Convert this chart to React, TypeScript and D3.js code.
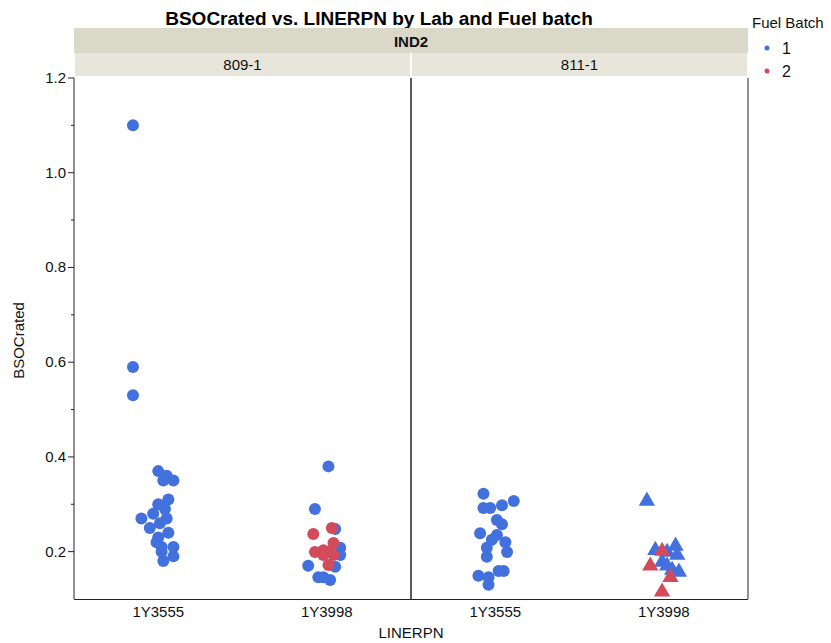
import React from "react";
import * as d3 from "d3";

// ---- data ----
const panels = ["809-1", "811-1"];
const categories = ["1Y3555", "1Y3998"];
const yTicks = [0.2, 0.4, 0.6, 0.8, 1.0, 1.2];
const yMinorTicks = [0.3, 0.5, 0.7, 0.9, 1.1];
const batches = ["1", "2"];

// 809-1, 1Y3555, batch 1 (jitter in category-step units)
const p1c1b1Values = [1.10, 0.59, 0.53, 0.37, 0.36, 0.35, 0.35, 0.31, 0.30, 0.29, 0.28, 0.27, 0.27, 0.25, 0.26, 0.24, 0.23, 0.22, 0.21, 0.21, 0.20, 0.19, 0.18];
const p1c1b1Jitter = [-0.15, -0.15, -0.15, 0, 0.05, 0.03, 0.09, 0.06, 0, 0.04, -0.03, 0.05, -0.1, -0.05, 0.01, 0.06, 0, -0.01, 0.09, 0.02, 0.02, 0.09, 0.03];
// 809-1, 1Y3998
const p1c2b1Values = [0.38, 0.29, 0.248, 0.208, 0.193, 0.17, 0.146, 0.14, 0.146, 0.168];
const p1c2b1Jitter = [0.01, -0.07, 0.05, 0.08, 0.08, -0.11, -0.05, 0.02, -0.02, 0.05];
const p1c2b2Values = [0.25, 0.237, 0.218, 0.199, 0.193, 0.199, 0.193, 0.172, 0.203];
const p1c2b2Jitter = [0.03, -0.08, 0.04, -0.07, -0.02, 0.01, 0.04, 0.01, -0.02];
// 811-1, 1Y3555
const p2c1b1Values = [0.322, 0.307, 0.292, 0.292, 0.298, 0.267, 0.258, 0.239, 0.235, 0.225, 0.22, 0.208, 0.199, 0.189, 0.149, 0.146, 0.159, 0.159, 0.13];
const p2c1b1Jitter = [-0.07, 0.11, -0.07, -0.03, 0.04, 0.01, 0.04, -0.09, 0.01, -0.02, 0.06, -0.05, 0.07, -0.05, -0.1, -0.04, 0.02, 0.05, -0.04];
// 811-1, 1Y3998 (triangles)
const p2c2b1Values = [0.307, 0.203, 0.199, 0.212, 0.193, 0.178, 0.17, 0.157, 0.161];
const p2c2b1Jitter = [-0.1, -0.05, 0.02, 0.07, 0.08, -0.01, 0.02, 0.09, 0.05];
const p2c2b2Values = [0.201, 0.17, 0.146, 0.115];
const p2c2b2Jitter = [-0.01, -0.08, 0.04, -0.01];

const groups = [
  { panel: "809-1", cat: "1Y3555", batch: "1", shape: "circle", values: p1c1b1Values, jitter: p1c1b1Jitter },
  { panel: "809-1", cat: "1Y3998", batch: "1", shape: "circle", values: p1c2b1Values, jitter: p1c2b1Jitter },
  { panel: "809-1", cat: "1Y3998", batch: "2", shape: "circle", values: p1c2b2Values, jitter: p1c2b2Jitter },
  { panel: "811-1", cat: "1Y3555", batch: "1", shape: "circle", values: p2c1b1Values, jitter: p2c1b1Jitter },
  { panel: "811-1", cat: "1Y3998", batch: "1", shape: "triangle", values: p2c2b1Values, jitter: p2c2b1Jitter },
  { panel: "811-1", cat: "1Y3998", batch: "2", shape: "triangle", values: p2c2b2Values, jitter: p2c2b2Jitter },
];

const W = 831;
const H = 643;
const left = 74;
const right = 748;
const top = 78;
const bottom = 599;
const FONT = "'Liberation Sans', Arial, sans-serif";

export default function App() {
  const y = d3.scaleLinear().domain([0.1, 1.2]).range([bottom, top]);
  const px = d3.scaleBand().domain(panels).range([left, right]).paddingInner(0);
  const color = d3.scaleOrdinal<string, string>().domain(batches).range(["#4271DD", "#D34A5B"]);
  const tri = d3.symbol().type(d3.symbolTriangle).size(115)() as string;

  const inner = (panel: string) =>
    d3.scalePoint().domain(categories).range([px(panel)!, px(panel)! + px.bandwidth()]).padding(0.5);

  return (
    <svg width={W} height={H} style={{ position: "absolute", left: 0, top: 0, fontFamily: FONT }}>
      <rect width={W} height={H} fill="#fff" />
      {/* title */}
      <text x={379} y={25} textAnchor="middle" fontSize={19} fontWeight="bold" fill="#000">
        BSOCrated vs. LINERPN by Lab and Fuel batch
      </text>
      {/* strips */}
      <rect x={left} y={28} width={right - left} height={25} fill="#DAD8C8" />
      <text x={(left + right) / 2} y={47} textAnchor="middle" fontSize={15} fontWeight="bold" fill="#111">IND2</text>
      {panels.map((p) => (
        <g key={p}>
          <rect x={px(p)! + 1} y={53} width={px.bandwidth() - 2} height={23} fill="#E8E6DA" />
          <text x={px(p)! + px.bandwidth() / 2} y={70} textAnchor="middle" fontSize={15} fill="#111">{p}</text>
        </g>
      ))}
      {/* points */}
      {groups.map((g, gi) => {
        const xs = inner(g.panel);
        const step = xs.step();
        return g.values.map((v, i) => {
          const cx = xs(g.cat)! + g.jitter[i] * step;
          const cy = y(v);
          return g.shape === "circle" ? (
            <circle key={`${gi}-${i}`} cx={cx} cy={cy} r={6} fill={color(g.batch)} />
          ) : (
            <path key={`${gi}-${i}`} d={tri} transform={`translate(${cx},${cy})`} fill={color(g.batch)} />
          );
        });
      })}
      {/* panel frames */}
      {panels.map((p) => (
        <g key={"f" + p}>
          <line x1={px(p)!} x2={px(p)!} y1={top} y2={bottom} stroke="#222" />
          <line x1={px(p)! + px.bandwidth()} x2={px(p)! + px.bandwidth()} y1={top} y2={bottom} stroke="#222" />
          <line x1={px(p)!} x2={px(p)! + px.bandwidth()} y1={bottom + 0.5} y2={bottom + 0.5} stroke="#222" />
          {categories.map((c) => (
            <text key={c} x={inner(p)(c)} y={617} textAnchor="middle" fontSize={15} fill="#111">{c}</text>
          ))}
        </g>
      ))}
      {/* y axis */}
      {yTicks.map((t) => (
        <g key={t}>
          <line x1={left - 6} x2={left} y1={y(t)} y2={y(t)} stroke="#222" />
          <text x={left - 8} y={y(t) + 5} textAnchor="end" fontSize={15} fill="#111">{d3.format(".1f")(t)}</text>
        </g>
      ))}
      {yMinorTicks.map((t) => (
        <line key={t} x1={left - 3} x2={left} y1={y(t)} y2={y(t)} stroke="#222" />
      ))}
      <text transform={`translate(24,${(top + bottom) / 2 + 2}) rotate(-90)`} textAnchor="middle" fontSize={15} fill="#111">BSOCrated</text>
      <text x={(left + right) / 2} y={638} textAnchor="middle" fontSize={15} fill="#111">LINERPN</text>
      {/* legend */}
      <text x={752} y={28} fontSize={15} fill="#111">Fuel Batch</text>
      {batches.map((b, i) => (
        <g key={b}>
          <circle cx={767} cy={48 + i * 23} r={2.5} fill={color(b)} />
          <text x={782} y={54 + i * 23} fontSize={16} fill="#111">{b}</text>
        </g>
      ))}
    </svg>
  );
}
